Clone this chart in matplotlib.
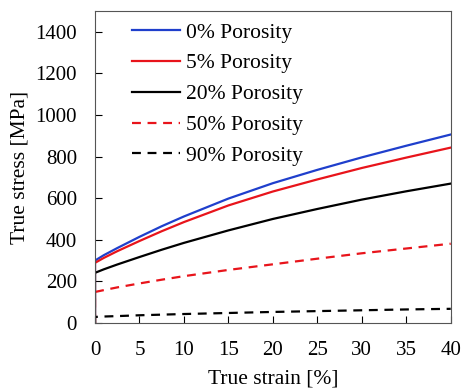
import matplotlib
matplotlib.use("Agg")
import matplotlib.pyplot as plt

plt.rcParams['font.family'] = ['Liberation Serif', 'DejaVu Serif']

# strain points [%] and true stress [MPa] for each porosity level
strain = [0, 0, 1, 2.5, 5, 7.5, 10, 15, 20, 25, 30, 35, 40]
stress_0 = [0, 300, 326, 360, 414, 465, 512, 598, 672, 736, 796, 852, 906]
stress_5 = [0, 289, 313, 345, 394, 441, 485, 565, 632, 690, 745, 795, 843]
stress_20 = [0, 241, 258, 281, 317, 352, 385, 445, 500, 548, 593, 633, 670]
stress_50 = [0, 149, 158, 171, 190, 208, 225, 255, 282, 309, 335, 358, 381]
stress_90 = [0, 29, 31, 33, 37, 40, 43, 48, 53, 57, 61, 65, 68]

fig = plt.figure(figsize=(4.62, 3.91), dpi=100)
ax = fig.add_axes([0.2056, 0.174, 0.770, 0.798])

ax.plot(strain, stress_0, color='#1f3fcc', lw=1.6, label='0% Porosity')
ax.plot(strain, stress_5, color='#e8141b', lw=1.6, label='5% Porosity')
ax.plot(strain, stress_20, color='black', lw=1.6, label='20% Porosity')
ax.plot(strain, stress_50, color='#e8141b', lw=1.6, ls=(0, (4, 3)), label='50% Porosity')
ax.plot(strain, stress_90, color='black', lw=1.6, ls=(0, (4, 3)), label='90% Porosity')

ax.set_xlim(0, 40)
ax.set_ylim(0, 1500)
ax.set_xticks(range(0, 41, 5))
ax.set_yticks(range(0, 1401, 200))
ax.tick_params(direction='in', labelsize=15, length=5, width=0.8, pad=13)
for s in ax.spines.values():
    s.set_color('#555555')

ax.set_xlabel('True strain [%]', fontsize=15.5, labelpad=7)
ax.set_ylabel('True stress [MPa]', fontsize=15.5, labelpad=4)

ax.legend(loc='upper left', frameon=False, fontsize=15.5, handlelength=2.2,
          handletextpad=0.3, labelspacing=0.5, bbox_to_anchor=(0.05, 1.025))

fig.savefig('out.png', dpi=100)
